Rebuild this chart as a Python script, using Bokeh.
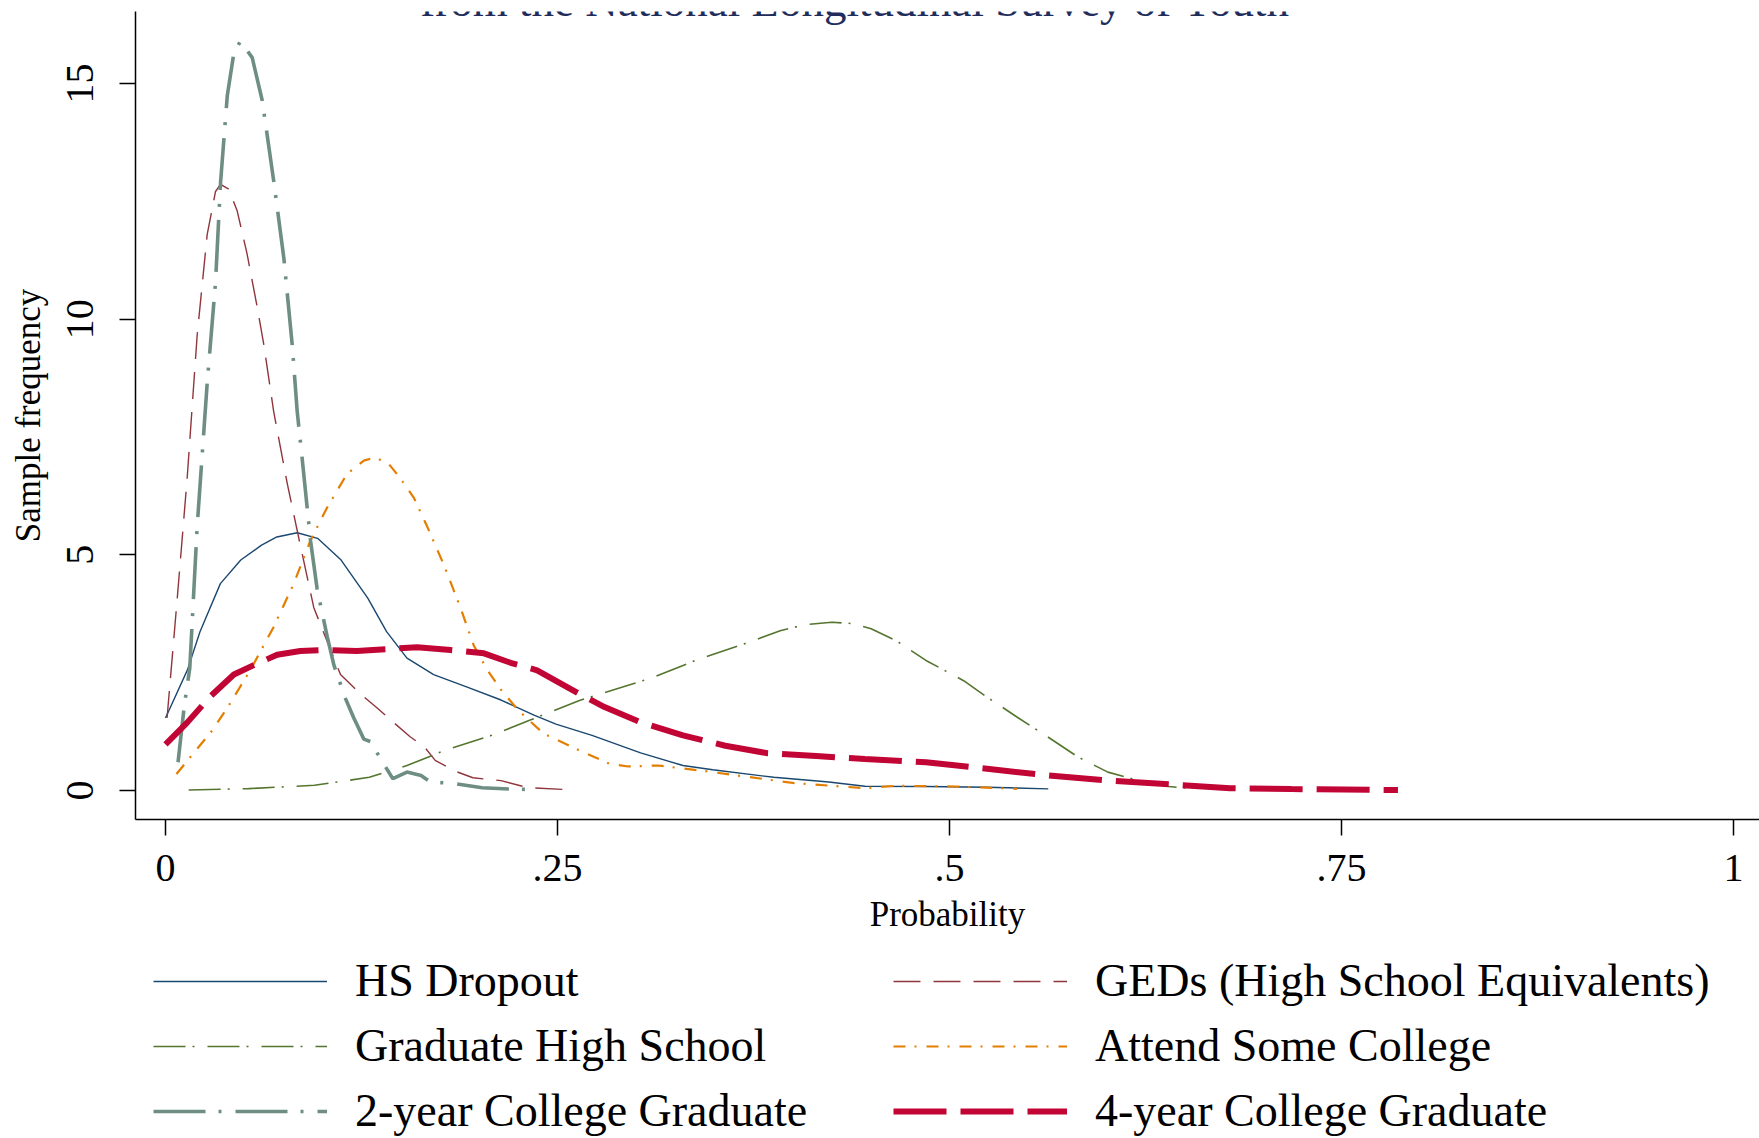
from bokeh.plotting import figure
from bokeh.layouts import column
from bokeh.models import Range1d, FixedTicker, Legend, LegendItem, Label
from bokeh.embed import file_html
from bokeh.resources import INLINE

FONT = "Liberation Serif"

# ---------------- data ----------------
x_ticks = [0, 0.25, 0.5, 0.75, 1]
x_tick_labels = ["0", ".25", ".5", ".75", "1"]
y_ticks = [0, 5, 10, 15]

series_names = ["HS Dropout", "GEDs (High School Equivalents)", "Graduate High School",
                "Attend Some College", "2-year College Graduate", "4-year College Graduate"]

dropout_x = [0.0, 0.014, 0.022, 0.035, 0.048, 0.061, 0.071, 0.084, 0.097, 0.112, 0.129, 0.141,
             0.154, 0.171, 0.192, 0.214, 0.235, 0.249, 0.272, 0.303, 0.330, 0.349, 0.388, 0.423,
             0.446, 0.485, 0.524, 0.563]
dropout_y = [1.54, 2.56, 3.37, 4.39, 4.89, 5.2, 5.38, 5.47, 5.35, 4.89, 4.08, 3.37,
             2.81, 2.46, 2.2, 1.92, 1.6, 1.41, 1.17, 0.8, 0.53, 0.44, 0.28, 0.18,
             0.09, 0.085, 0.07, 0.035]

ged_x = [0.001, 0.0075, 0.0138, 0.0202, 0.0266, 0.0319, 0.0351, 0.0404, 0.0457, 0.052, 0.0584,
         0.0627, 0.069, 0.0776, 0.086, 0.0946, 0.103, 0.1116, 0.1244, 0.135, 0.1456, 0.156,
         0.165, 0.172, 0.184, 0.196, 0.214, 0.231, 0.261]
ged_y = [1.54, 4.08, 6.62, 9.66, 11.8, 12.71, 12.86, 12.76, 12.3, 11.39, 10.27,
         9.46, 8.04, 6.52, 5.2, 3.88, 3.17, 2.46, 2.05, 1.75, 1.44, 1.14,
         0.93, 0.64, 0.42, 0.27, 0.21, 0.06, 0.01]

gradhs_x = [0.0148, 0.053, 0.095, 0.13, 0.154, 0.178, 0.208, 0.233, 0.264, 0.291, 0.311, 0.338,
            0.369, 0.392, 0.408, 0.425, 0.439, 0.450, 0.466, 0.485, 0.509, 0.524, 0.543, 0.563,
            0.582, 0.601, 0.621, 0.640, 0.656]
gradhs_y = [0.01, 0.04, 0.11, 0.28, 0.53, 0.85, 1.17, 1.5, 1.91, 2.19, 2.40, 2.76,
            3.11, 3.39, 3.52, 3.57, 3.54, 3.43, 3.18, 2.76, 2.33, 1.98, 1.56, 1.13,
            0.71, 0.39, 0.21, 0.085, 0.035]

somecol_x = [0.007, 0.0297, 0.0394, 0.0542, 0.069, 0.0818, 0.0924, 0.103, 0.1158, 0.1265, 0.1329,
             0.1414, 0.1499, 0.1584, 0.1669, 0.1775, 0.1881, 0.1967, 0.2052, 0.2137, 0.225, 0.241,
             0.264, 0.283, 0.295, 0.314, 0.342, 0.369, 0.400, 0.431, 0.446, 0.466, 0.504, 0.543]
somecol_y = [0.35, 1.27, 1.75, 2.56, 3.47, 4.39, 5.3, 6.0, 6.72, 7.0, 7.06,
             6.97, 6.62, 6.21, 5.6, 4.79, 3.88, 3.07, 2.56, 2.15, 1.7, 1.21,
             0.85, 0.57, 0.51, 0.53, 0.42, 0.30, 0.16, 0.085, 0.05, 0.10, 0.085, 0.035]

twoyr_x = [0.008, 0.012, 0.0155, 0.0202, 0.0266, 0.0319, 0.0351, 0.0394, 0.0436, 0.0478, 0.0553,
           0.0617, 0.0691, 0.0755, 0.0808, 0.084, 0.0872, 0.0925, 0.0967, 0.1031, 0.1074, 0.1148,
           0.1201, 0.1265, 0.1307, 0.139, 0.145, 0.154, 0.163, 0.169, 0.184, 0.202, 0.22, 0.238]
twoyr_y = [0.6, 1.8, 2.6, 5.6, 8.65, 10.78, 12.9, 14.74, 15.65, 15.9, 15.55,
           14.64, 12.91, 11.29, 9.46, 8.04, 7.03, 5.3, 4.28, 3.27, 2.66, 1.95,
           1.54, 1.09, 1.04, 0.57, 0.25, 0.39, 0.32, 0.18, 0.15, 0.06, 0.03, 0.02]

fouryr_x = [0.0, 0.0138, 0.0287, 0.0436, 0.0563, 0.0712, 0.086, 0.103, 0.122, 0.1414, 0.1605,
            0.1818, 0.2031, 0.2201, 0.237, 0.264, 0.280, 0.303, 0.330, 0.357, 0.384, 0.415,
            0.446, 0.485, 0.524, 0.563, 0.601, 0.640, 0.679, 0.718, 0.786]
fouryr_y = [0.98, 1.44, 2.0, 2.46, 2.66, 2.88, 2.96, 2.98, 2.96, 3.0, 3.04,
            2.98, 2.91, 2.71, 2.55, 2.05, 1.77, 1.45, 1.17, 0.95, 0.79, 0.73,
            0.67, 0.60, 0.46, 0.32, 0.21, 0.13, 0.05, 0.03, 0.01]

title_text = "from the National Longitudinal Survey of Youth"
x_axis_title = "Probability"
y_axis_title = "Sample frequency"

# ---------------- main figure ----------------
p = figure(width=1759, height=936, output_backend="svg", toolbar_location=None,
           x_range=Range1d(-0.01913, 1.01657), y_range=Range1d(-0.6153, 16.529),
           min_border_left=135, min_border_top=11, min_border_bottom=117, min_border_right=0)
p.outline_line_color = None
p.xgrid.visible = False
p.ygrid.visible = False
p.background_fill_color = "white"
p.border_fill_color = "white"

for ax in (p.xaxis[0], p.yaxis[0]):
    ax.axis_line_color = "black"
    ax.axis_line_width = 1.5
    ax.major_tick_line_color = "black"
    ax.major_tick_line_width = 1.5
    ax.major_tick_out = 16
    ax.major_tick_in = 0
    ax.minor_tick_out = 0
    ax.minor_tick_in = 0
    ax.major_label_text_font = FONT
    ax.major_label_text_font_size = "40px"
    ax.major_label_text_color = "black"
    ax.axis_label_text_font = FONT
    ax.axis_label_text_font_size = "35px"
    ax.axis_label_text_font_style = "normal"
    ax.axis_label_text_color = "black"

p.xaxis.ticker = FixedTicker(ticks=x_ticks)
p.xaxis.major_label_overrides = {t: l for t, l in zip(x_ticks, x_tick_labels)}
p.xaxis.axis_label = x_axis_title
p.xaxis.major_label_standoff = 19
p.xaxis.axis_label_standoff = 11

p.yaxis.ticker = FixedTicker(ticks=y_ticks)
p.yaxis.major_label_orientation = "vertical"
p.yaxis.axis_label = y_axis_title
p.yaxis.major_label_standoff = 26
p.yaxis.axis_label_standoff = 17

styles = [
    (dropout_x, dropout_y, "#1a476f", 1.4, "solid"),
    (ged_x, ged_y, "#90353b", 1.4, "27 13"),
    (gradhs_x, gradhs_y, "#55752f", 1.6, "32 7 2 13"),
    (somecol_x, somecol_y, "#e37e00", 2.2, "12 9 2 10"),
    (twoyr_x, twoyr_y, "#6e8e84", 3.6, "52 13 3 14"),
    (fouryr_x, fouryr_y, "#c10534", 6.0, "53 14"),
]

for xs, ys, col, w, dash in styles:
    p.line(xs, ys, line_color=col, line_width=w, line_dash=dash)

title = Label(x=0.44, y=16.76, text=title_text, text_align="center",
              text_baseline="alphabetic", text_font=FONT, text_font_size="45px",
              text_color="#1f2d5c")
p.add_layout(title)

# ---------------- legend strip (same series and styles; view window keeps lines out of sight) ----------------
lg = figure(width=1759, height=202, output_backend="svg", toolbar_location=None,
            x_range=Range1d(10, 11), y_range=Range1d(10, 11),
            min_border_left=135, min_border_top=0, min_border_bottom=0, min_border_right=0)
lg.axis.visible = False
lg.xgrid.visible = False
lg.ygrid.visible = False
lg.outline_line_color = None

items = []
for name, (xs, ys, col, w, dash) in zip(series_names, styles):
    r = lg.line(xs, ys, line_color=col, line_width=w, line_dash=dash)
    items.append(LegendItem(label=name, renderers=[r]))

legend = Legend(items=items, orientation="horizontal", ncols=2, location="top_left",
                label_text_font=FONT, label_text_font_size="46px", label_text_color="black",
                glyph_width=174, glyph_height=40, label_height=40, label_width=526,
                label_standoff=28, spacing=12, padding=18, margin=0,
                border_line_color="white", border_line_alpha=0,
                background_fill_alpha=0)
lg.add_layout(legend, "center")

layout = column(p, lg, spacing=0)
open("out.html", "w").write(file_html(layout, INLINE))
